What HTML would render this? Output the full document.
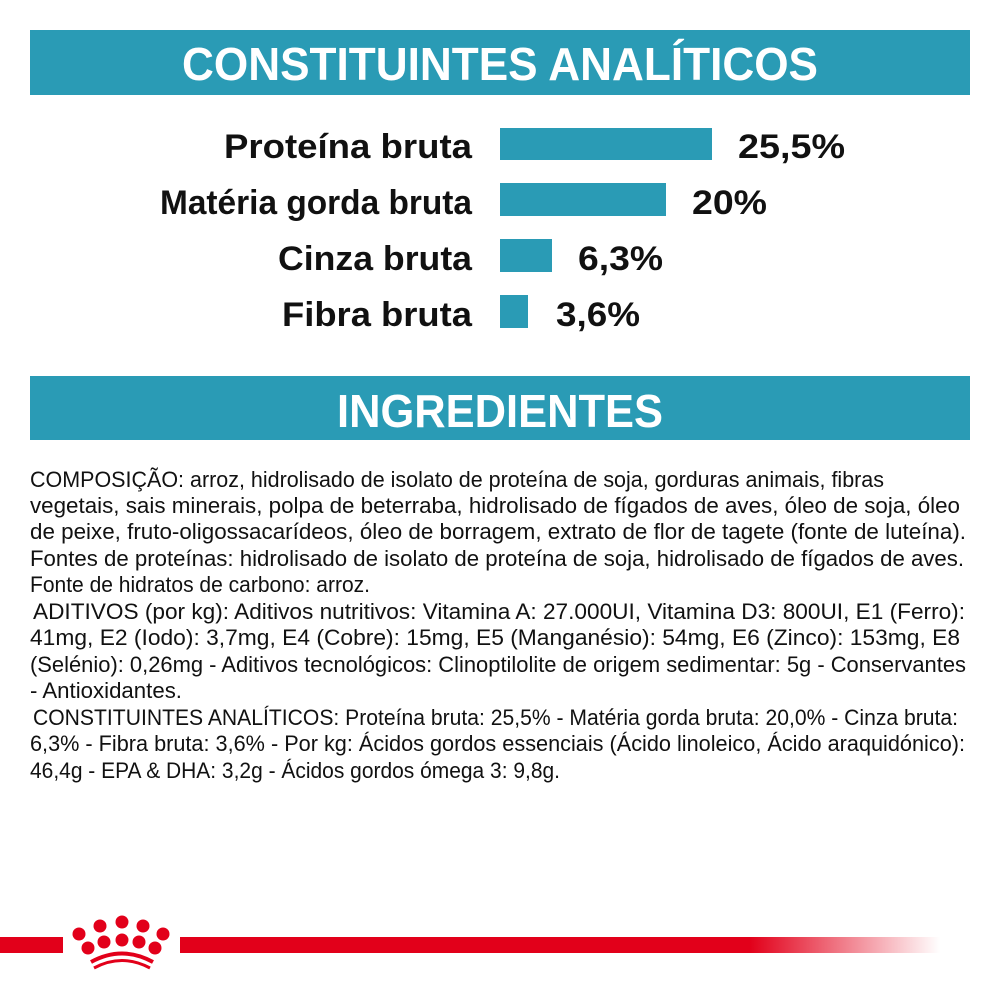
<!DOCTYPE html>
<html><head><meta charset="utf-8"><style>body{margin:0;background:#fff}svg{display:block}</style></head><body>
<svg width="1000" height="1000" viewBox="0 0 1000 1000" xmlns="http://www.w3.org/2000/svg" font-family="Liberation Sans, sans-serif">
<defs><linearGradient id="g" x1="0" x2="1"><stop offset="0.75" stop-color="#e2001a"/><stop offset="1" stop-color="#e2001a" stop-opacity="0"/></linearGradient></defs>
<rect x="30" y="30" width="940" height="65" fill="#2a9bb5"/>
<text x="182" y="80" font-size="46" font-weight="bold" fill="#fff" textLength="636" lengthAdjust="spacingAndGlyphs">CONSTITUINTES ANALÍTICOS</text>
<rect x="30" y="376" width="940" height="64" fill="#2a9bb5"/>
<text x="337" y="427" font-size="46" font-weight="bold" fill="#fff" textLength="326" lengthAdjust="spacingAndGlyphs">INGREDIENTES</text>
<g fill="#2a9bb5"><rect x="500" y="128" width="212" height="32"/><rect x="500" y="183" width="166" height="33"/><rect x="500" y="239" width="52" height="33"/><rect x="500" y="295" width="28" height="33"/></g>
<g font-size="34" font-weight="bold" fill="#111" text-anchor="end">
<text x="472" y="158" textLength="248" lengthAdjust="spacingAndGlyphs">Proteína bruta</text>
<text x="472" y="214" textLength="312" lengthAdjust="spacingAndGlyphs">Matéria gorda bruta</text>
<text x="472" y="270" textLength="194" lengthAdjust="spacingAndGlyphs">Cinza bruta</text>
<text x="472" y="326" textLength="190" lengthAdjust="spacingAndGlyphs">Fibra bruta</text>
</g>
<g font-size="34" font-weight="bold" fill="#111">
<text x="738" y="158" textLength="107" lengthAdjust="spacingAndGlyphs">25,5%</text>
<text x="692" y="214" textLength="75" lengthAdjust="spacingAndGlyphs">20%</text>
<text x="578" y="270" textLength="85" lengthAdjust="spacingAndGlyphs">6,3%</text>
<text x="556" y="326" textLength="84" lengthAdjust="spacingAndGlyphs">3,6%</text>
</g>
<g font-size="22" fill="#111">
<text x="30" y="487" textLength="854" lengthAdjust="spacingAndGlyphs">COMPOSIÇÃO: arroz, hidrolisado de isolato de proteína de soja, gorduras animais, fibras</text>
<text x="30" y="513" textLength="930" lengthAdjust="spacingAndGlyphs">vegetais, sais minerais, polpa de beterraba, hidrolisado de fígados de aves, óleo de soja, óleo</text>
<text x="30" y="539" textLength="936" lengthAdjust="spacingAndGlyphs">de peixe, fruto-oligossacarídeos, óleo de borragem, extrato de flor de tagete (fonte de luteína).</text>
<text x="30" y="566" textLength="934" lengthAdjust="spacingAndGlyphs">Fontes de proteínas: hidrolisado de isolato de proteína de soja, hidrolisado de fígados de aves.</text>
<text x="30" y="592" textLength="340" lengthAdjust="spacingAndGlyphs">Fonte de hidratos de carbono: arroz.</text>
<text x="33" y="619" textLength="932" lengthAdjust="spacingAndGlyphs">ADITIVOS (por kg): Aditivos nutritivos: Vitamina A: 27.000UI, Vitamina D3: 800UI, E1 (Ferro):</text>
<text x="30" y="645" textLength="930" lengthAdjust="spacingAndGlyphs">41mg, E2 (Iodo): 3,7mg, E4 (Cobre): 15mg, E5 (Manganésio): 54mg, E6 (Zinco): 153mg, E8</text>
<text x="30" y="672" textLength="936" lengthAdjust="spacingAndGlyphs">(Selénio): 0,26mg - Aditivos tecnológicos: Clinoptilolite de origem sedimentar: 5g - Conservantes</text>
<text x="30" y="698" textLength="152" lengthAdjust="spacingAndGlyphs">- Antioxidantes.</text>
<text x="33" y="725" textLength="925" lengthAdjust="spacingAndGlyphs">CONSTITUINTES ANALÍTICOS: Proteína bruta: 25,5% - Matéria gorda bruta: 20,0% - Cinza bruta:</text>
<text x="30" y="751" textLength="935" lengthAdjust="spacingAndGlyphs">6,3% - Fibra bruta: 3,6% - Por kg: Ácidos gordos essenciais (Ácido linoleico, Ácido araquidónico):</text>
<text x="30" y="778" textLength="530" lengthAdjust="spacingAndGlyphs">46,4g - EPA &amp; DHA: 3,2g - Ácidos gordos ómega 3: 9,8g.</text>
</g>
<rect x="0" y="937" width="63" height="16" fill="#e2001a"/>
<rect x="180" y="937" width="760" height="16" fill="url(#g)"/>
<g fill="#e2001a">
<circle cx="79" cy="934" r="6.5"/><circle cx="100" cy="926" r="6.5"/><circle cx="122" cy="922" r="6.5"/><circle cx="143" cy="926" r="6.5"/><circle cx="163" cy="934" r="6.5"/>
<circle cx="88" cy="948" r="6.5"/><circle cx="104" cy="942" r="6.5"/><circle cx="122" cy="940" r="6.5"/><circle cx="139" cy="942" r="6.5"/><circle cx="155" cy="948" r="6.5"/>
</g>
<path d="M91 962 Q122 945 153 962" stroke="#e2001a" stroke-width="4" fill="none"/>
<path d="M94 968 Q122 953 150 968" stroke="#e2001a" stroke-width="3" fill="none"/>
</svg>
</body></html>
